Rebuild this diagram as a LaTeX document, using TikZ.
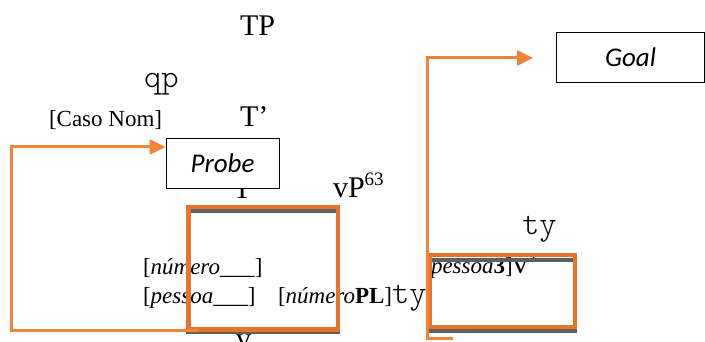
\documentclass[tikz,border=0pt]{standalone}
\usepackage{fontspec}
\setmainfont{Liberation Serif}
\newfontfamily\calib{Carlito}
\newfontfamily\monof{Latin Modern Mono Light}
\usetikzlibrary{arrows.meta}
\newcommand\fsz[1]{\fontsize{#1}{#1}\selectfont}
\definecolor{orcon}{RGB}{239,133,58}
\definecolor{orbox}{RGB}{234,115,40}
\definecolor{grayln}{RGB}{95,95,95}
\tikzset{
  txt/.style={anchor=base west, inner sep=0pt, outer sep=0pt},
  big/.style={txt, font=\fsz{30}},
  small/.style={txt, font=\fsz{23}},
  mono/.style={txt, font=\monof\fsz{33}},
  labelbox/.style={draw=black, line width=0.9pt, fill=white, inner sep=0pt, font=\calib\itshape\fsz{27}},
  orrect/.style={draw=orbox, line width=4.5pt},
  grayline/.style={draw=grayln, line width=3.5pt},
  conn/.style={draw=orcon, line width=3pt},
  arr/.style={-{Triangle[length=16pt,width=15pt]}}
}
\begin{document}
\begin{tikzpicture}[x=1pt,y=-1pt]
\useasboundingbox (0,0) rectangle (705,342);
\clip (0,0) rectangle (705,342);
% texts
\node[big] (tp) at (240,36) {TP};
\node[mono] (qp) at (144,88) {qp};
\node[small] (caso) at (49,127) {[Caso Nom]};
\node[big] (tbar) at (240,127) {T’};
\node[big] (t) at (233,199) {T};
\node[big] (vp) at (333,198) {vP\raisebox{13pt}{\fsz{19}63}};
\node[small] (num) at (143,275) {[\textit{número\_\_\_}]};
\node[small] (pess) at (143,303) {[\textit{pessoa\_\_\_}]};
\node[small] (numpl) at (278,303) {[\textit{número}\textbf{PL}]{\monof\fsz{33}ty}};
\node[big] (vbot) at (236,348) {v};
\node[mono] (rty) at (522,235) {ty};
\node[small] (pessv) at (431,273) {\textit{pessoa}\textbf{3}]{\fsz{30}v’}};
% boxes
\node[labelbox, minimum width=113pt, minimum height=50pt] (probe) at (222.5,163) {Probe};
\node[labelbox, minimum width=148pt, minimum height=50pt] (goal) at (630.5,57) {Goal};
% left structure box
\draw[grayline] (191,211) coordinate (lgt1) -- (336,211) coordinate (lgt2);
\draw[grayline, line width=3pt] (186,332.5) coordinate (lgb1) -- (340,332.5) coordinate (lgb2);
\node[orrect, minimum width=149.5pt, minimum height=122.5pt, inner sep=0pt, outer sep=0pt] (lbox) at (263.25,268.25) {};
% right structure box
\draw[grayline] (432,260) coordinate (rgt1) -- (573,260) coordinate (rgt2);
\draw[grayline, line width=4pt] (428,330.5) coordinate (rgb1) -- (577,330.5) coordinate (rgb2);
\node[orrect, line width=4pt, minimum width=145pt, minimum height=71pt, inner sep=0pt, outer sep=0pt] (rbox) at (502.5,291) {};
% connectors
\coordinate (lstart) at (198,330);
\coordinate (lcorner1) at (11,330);
\coordinate (lcorner2) at (11,147);
\coordinate (ltip) at (probe.west |- lcorner2);
\draw[conn, arr] (lstart) -- (lcorner1) -- (lcorner2) -- (ltip);
\coordinate (rstart) at (453,338);
\coordinate (rcorner1) at (427,338);
\coordinate (rcorner2) at (427,58);
\coordinate (rtip) at (533,58);
\draw[conn, arr] (rstart) -- (rcorner1) -- (rcorner2) -- (rtip);
\end{tikzpicture}
\end{document}
